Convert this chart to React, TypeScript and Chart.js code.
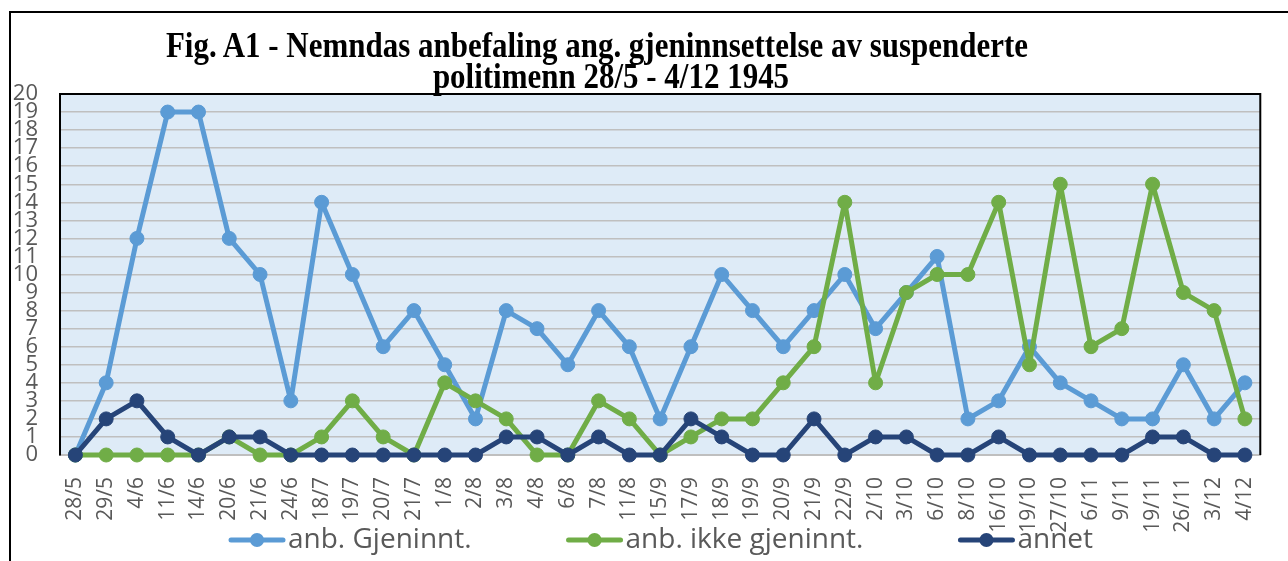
import React, { useEffect, useRef } from "react";
import { Chart, registerables } from "chart.js";

Chart.register(...registerables);

const categories = [
  "28/5", "29/5", "4/6", "11/6", "14/6", "20/6", "21/6", "24/6", "18/7", "19/7",
  "20/7", "21/7", "1/8", "2/8", "3/8", "4/8", "6/8", "7/8", "11/8", "15/9",
  "17/9", "18/9", "19/9", "20/9", "21/9", "22/9", "2/10", "3/10", "6/10", "8/10",
  "16/10", "19/10", "27/10", "6/11", "9/11", "19/11", "26/11", "3/12", "4/12",
];

const anbGjeninnt = [
  0, 4, 12, 19, 19, 12, 10, 3, 14, 10,
  6, 8, 5, 2, 8, 7, 5, 8, 6, 2,
  6, 10, 8, 6, 8, 10, 7, 9, 11, 2,
  3, 6, 4, 3, 2, 2, 5, 2, 4,
];

const anbIkkeGjeninnt = [
  0, 0, 0, 0, 0, 1, 0, 0, 1, 3,
  1, 0, 4, 3, 2, 0, 0, 3, 2, 0,
  1, 2, 2, 4, 6, 14, 4, 9, 10, 10,
  14, 5, 15, 6, 7, 15, 9, 8, 2,
];

const annet = [
  0, 2, 3, 1, 0, 1, 1, 0, 0, 0,
  0, 0, 0, 0, 1, 1, 0, 1, 0, 0,
  2, 1, 0, 0, 2, 0, 1, 1, 0, 0,
  1, 0, 0, 0, 0, 1, 1, 0, 0,
];

const seriesLabels = ["anb. Gjeninnt.", "anb. ikke gjeninnt.", "annet"];
const seriesColors = ["#5B9BD5", "#70AD47", "#264478"];
const yMin = 0;
const yMax = 20;

const titleLine1 = "Fig. A1 - Nemndas anbefaling ang. gjeninnsettelse av suspenderte";
const titleLine2 = "politimenn 28/5 - 4/12 1945";

const W = 1288;
const H = 561;
const TEXT_GRAY = "#595959";
const SANS = "'Open Sans', sans-serif";

const plotBackground = {
  id: "plotBackground",
  beforeDraw(chart: any) {
    const { ctx, chartArea: a } = chart;
    ctx.save();
    ctx.fillStyle = "#DEEBF7";
    ctx.fillRect(a.left, a.top, a.right - a.left, a.bottom - a.top);
    ctx.restore();
  },
};

const plotFrame = {
  id: "plotFrame",
  beforeDatasetsDraw(chart: any) {
    const { ctx, chartArea: a } = chart;
    ctx.save();
    ctx.strokeStyle = "#000000";
    ctx.lineWidth = 2;
    ctx.beginPath();
    ctx.moveTo(a.left, a.top);
    ctx.lineTo(a.right, a.top);
    ctx.lineTo(a.right, a.bottom);
    ctx.stroke();
    ctx.restore();
  },
};

const customLegend = {
  id: "customLegend",
  afterDraw(chart: any) {
    const { ctx } = chart;
    const y = 540;
    let x = 229;
    const markerW = 56;
    const gapText = 3;
    const gapItem = 95;
    ctx.save();
    ctx.font = `28px ${SANS}`;
    ctx.textBaseline = "middle";
    ctx.textAlign = "left";
    seriesLabels.forEach((label, i) => {
      const c = seriesColors[i];
      ctx.strokeStyle = c;
      ctx.lineWidth = 5;
      ctx.lineCap = "round";
      ctx.beginPath();
      ctx.moveTo(x + 2, y);
      ctx.lineTo(x + markerW - 2, y);
      ctx.stroke();
      ctx.fillStyle = c;
      ctx.beginPath();
      ctx.arc(x + markerW / 2, y, 7, 0, Math.PI * 2);
      ctx.fill();
      ctx.fillStyle = TEXT_GRAY;
      const tx = x + markerW + gapText;
      ctx.fillText(label, tx, y);
      x = tx + ctx.measureText(label).width + gapItem;
    });
    ctx.restore();
  },
};

function App() {
  const canvasRef = useRef<HTMLCanvasElement | null>(null);

  useEffect(() => {
    if (!canvasRef.current) return;
    const seriesData = [anbGjeninnt, anbIkkeGjeninnt, annet];
    const chart = new Chart(canvasRef.current, {
      type: "line",
      data: {
        labels: categories,
        datasets: seriesData.map((d, i) => ({
          label: seriesLabels[i],
          data: d,
          borderColor: seriesColors[i],
          backgroundColor: seriesColors[i],
          pointBackgroundColor: seriesColors[i],
          pointBorderColor: seriesColors[i],
          borderWidth: 5,
          borderJoinStyle: "round",
          borderCapStyle: "round",
          pointRadius: 7,
          pointBorderWidth: 1,
          tension: 0,
          fill: false,
          clip: false as any,
          order: 3 - i,
        })),
      },
      options: {
        responsive: false,
        animation: false,
        devicePixelRatio: 1,
        layout: { padding: { top: 94, left: 0, right: 6, bottom: 0 } },
        plugins: {
          legend: { display: false },
          title: { display: false },
          tooltip: { enabled: false },
        },
        events: [],
        scales: {
          x: {
            type: "category",
            offset: true,
            grid: { display: false, drawTicks: false },
            border: { display: true, color: "#BFBFBF", width: 2 },
            ticks: {
              autoSkip: false,
              maxRotation: 90,
              minRotation: 90,
              padding: 22,
              color: TEXT_GRAY,
              font: { family: SANS, size: 21, lineHeight: 1 },
            },
            afterFit(scale: any) {
              scale.height = 106;
            },
          },
          y: {
            type: "linear",
            min: yMin,
            max: yMax,
            grid: { color: "#BFBFBF", lineWidth: 1.5, drawTicks: false },
            border: { display: true, color: "#000000", width: 2 },
            ticks: {
              stepSize: 1,
              autoSkip: false,
              maxTicksLimit: 21,
              padding: 22,
              color: TEXT_GRAY,
              font: { family: SANS, size: 22, lineHeight: 0.8 },
            },
            afterFit(scale: any) {
              scale.width = 60;
            },
          },
        },
      },
      plugins: [plotBackground, plotFrame, customLegend],
    } as any);
    return () => chart.destroy();
  }, []);

  const titleStyle = (center: number, top: number): React.CSSProperties => ({
    position: "absolute",
    left: center - 600,
    top,
    width: 1200,
    textAlign: "center",
    whiteSpace: "nowrap",
    fontFamily: "'Liberation Serif', 'Times New Roman', serif",
    fontWeight: "bold",
    fontSize: 35,
    lineHeight: "31px",
    color: "#000000",
    transform: "scaleX(0.885)",
    transformOrigin: "600px 50%",
  });

  return (
    <div style={{ position: "absolute", left: 0, top: 0, width: W, height: H, overflow: "hidden", background: "#ffffff" }}>
      <div
        style={{
          position: "absolute",
          left: 9,
          top: 11,
          width: W + 20,
          height: H + 20,
          borderLeft: "2px solid #000",
          borderTop: "2px solid #000",
        }}
      />
      <canvas ref={canvasRef} width={W} height={H} style={{ position: "absolute", left: 0, top: 0, width: W, height: H }} />
      <div style={titleStyle(597, 30)}>{titleLine1}</div>
      <div style={titleStyle(611, 61)}>{titleLine2}</div>
    </div>
  );
}

export default App;
